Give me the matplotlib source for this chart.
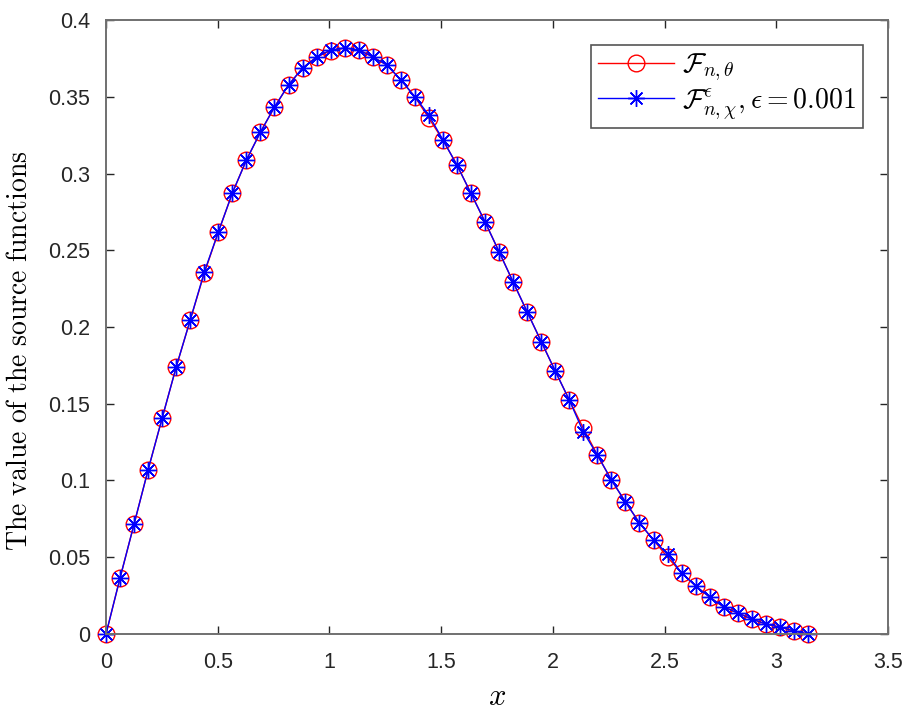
import numpy as np
import matplotlib
matplotlib.use("Agg")
import matplotlib.pyplot as plt

plt.rcParams['mathtext.fontset'] = 'cm'
plt.rcParams['font.family'] = ['Liberation Sans', 'DejaVu Sans']

# grid points on [0, pi]
x = [0.0000, 0.0628, 0.1257, 0.1885, 0.2513, 0.3142, 0.3770, 0.4398, 0.5027, 0.5655,
     0.6283, 0.6912, 0.7540, 0.8168, 0.8796, 0.9425, 1.0053, 1.0681, 1.1310, 1.1938,
     1.2566, 1.3195, 1.3823, 1.4451, 1.5080, 1.5708, 1.6336, 1.6965, 1.7593, 1.8221,
     1.8850, 1.9478, 2.0106, 2.0735, 2.1363, 2.1991, 2.2619, 2.3248, 2.3876, 2.4504,
     2.5133, 2.5761, 2.6389, 2.7018, 2.7646, 2.8274, 2.8903, 2.9531, 3.0159, 3.0788,
     3.1416]

f_theta = [0.0000, 0.0365, 0.0717, 0.1070, 0.1407, 0.1740, 0.2046, 0.2350, 0.2619, 0.2873,
           0.3088, 0.3270, 0.3433, 0.3577, 0.3687, 0.3759, 0.3800, 0.3818, 0.3805, 0.3760,
           0.3707, 0.3610, 0.3500, 0.3360, 0.3218, 0.3055, 0.2870, 0.2684, 0.2490, 0.2293,
           0.2098, 0.1905, 0.1713, 0.1524, 0.1340, 0.1166, 0.1003, 0.0860, 0.0723, 0.0612,
           0.0500, 0.0397, 0.0313, 0.0240, 0.0176, 0.0137, 0.0097, 0.0065, 0.0045, 0.0020,
           0.0000]

f_chi = [0.0000, 0.0365, 0.0717, 0.1070, 0.1407, 0.1740, 0.2046, 0.2358, 0.2619, 0.2873,
         0.3088, 0.3270, 0.3433, 0.3577, 0.3687, 0.3759, 0.3805, 0.3818, 0.3805, 0.3760,
         0.3707, 0.3610, 0.3500, 0.3380, 0.3218, 0.3055, 0.2870, 0.2684, 0.2490, 0.2293,
         0.2098, 0.1905, 0.1713, 0.1524, 0.1316, 0.1166, 0.1003, 0.0860, 0.0723, 0.0612,
         0.0520, 0.0397, 0.0313, 0.0240, 0.0176, 0.0137, 0.0097, 0.0065, 0.0045, 0.0020,
         0.0000]

fig = plt.figure(figsize=(9.14, 7.15), dpi=100)
ax = fig.add_axes([0.116, 0.1133, 0.8556, 0.8587])

ax.plot(x, f_theta, color='red', lw=1.0, marker='o', ms=12, mfc='none', mec='red',
        mew=1.0, clip_on=False, label=r'$\mathcal{F}_{n,\theta}$')
ax.plot(x, f_chi, color='blue', lw=1.0, marker=(8, 2, 0), ms=12, mec='blue', mew=1.0,
        clip_on=False, label=r'$\mathcal{F}^{\epsilon}_{n,\chi}, \epsilon=0.001$')

ax.set_xlim(0, 3.5)
ax.set_ylim(0, 0.4)
ax.set_xticks([0, 0.5, 1, 1.5, 2, 2.5, 3, 3.5])
ax.set_xticklabels(['0', '0.5', '1', '1.5', '2', '2.5', '3', '3.5'])
ax.set_yticks([0, 0.05, 0.1, 0.15, 0.2, 0.25, 0.3, 0.35, 0.4])
ax.set_yticklabels(['0', '0.05', '0.1', '0.15', '0.2', '0.25', '0.3', '0.35', '0.4'])

ax.tick_params(direction='in', top=True, right=True, length=6, width=1.0,
               labelsize=15.5, colors='#262626')
ax.tick_params(axis='y', pad=11.5)
ax.tick_params(axis='x', pad=13)
for s in ax.spines.values():
    s.set_color('#707070')
    s.set_linewidth(1.4)

ax.set_xlabel(r'$x$', fontsize=22, va='top')
ax.xaxis.set_label_coords(0.5, -0.079)
ax.set_ylabel(r'$\mathrm{The\ value\ of\ the\ source\ functions}$', fontsize=20)
ax.yaxis.set_label_coords(-0.093, 0.461)

leg = ax.legend(loc='upper right', bbox_to_anchor=(0.968, 0.96), fontsize=20,
                fancybox=False, framealpha=1, edgecolor='#555555',
                handlelength=2.75, handletextpad=0.3, borderpad=0.25, labelspacing=0.1,
                borderaxespad=0)
leg.get_frame().set_linewidth(1.2)

fig.savefig('out.png', dpi=100)
